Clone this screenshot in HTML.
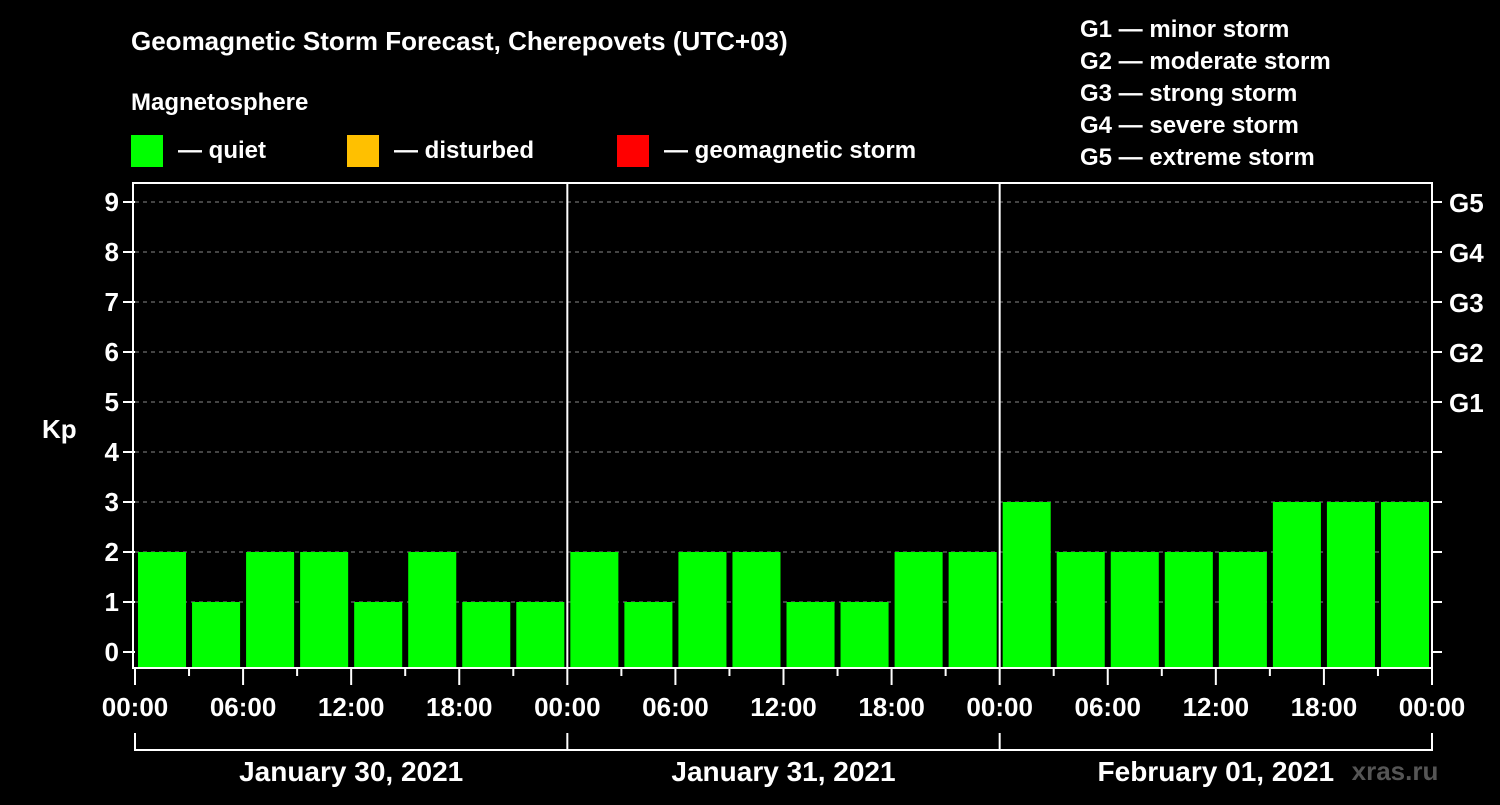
<!DOCTYPE html>
<html><head><meta charset="utf-8"><style>
body{margin:0;background:#000;width:1500px;height:800px;overflow:hidden}
svg text{font-family:"Liberation Sans",sans-serif;font-weight:bold;fill:#fff}
</style></head><body>
<svg width="1500" height="800">
<g id="hdr">
<text x="131" y="50" font-size="26">Geomagnetic Storm Forecast, Cherepovets (UTC+03)</text>
<text x="131" y="110" font-size="24">Magnetosphere</text>
<rect x="131" y="135" width="32" height="32" fill="#00ff00"/>
<text x="178" y="158" font-size="24">— quiet</text>
<rect x="347" y="135" width="32" height="32" fill="#ffc000"/>
<text x="394" y="158" font-size="24">— disturbed</text>
<rect x="617" y="135" width="32" height="32" fill="#ff0000"/>
<text x="664" y="158" font-size="24">— geomagnetic storm</text>
<text x="1080" y="37" font-size="24">G1 — minor storm</text>
<text x="1080" y="69" font-size="24">G2 — moderate storm</text>
<text x="1080" y="101" font-size="24">G3 — strong storm</text>
<text x="1080" y="133" font-size="24">G4 — severe storm</text>
<text x="1080" y="165" font-size="24">G5 — extreme storm</text>
<text x="42" y="438" font-size="26">Kp</text>
<text x="1395" y="780" font-size="26" fill="#666" style="fill:#555" text-anchor="middle">xras.ru</text>
</g>
<g id="plot"></g>
</svg>
<script>
const kpValues=[2,1,2,2,1,2,1,1, 2,1,2,2,1,1,2,2, 3,2,2,2,2,3,3,3];
const days=["January 30, 2021","January 31, 2021","February 01, 2021"];
const timeLabels=["00:00","06:00","12:00","18:00"];
const yTicks=[0,1,2,3,4,5,6,7,8,9];
const gLabels=[[5,"G1"],[6,"G2"],[7,"G3"],[8,"G4"],[9,"G5"]];
const L=135,R=1432,T=183,B=668;
const slot=(R-L)/kpValues.length;
const x=i=>L+i*slot;
const y=v=>652-50*v;
const NS="http://www.w3.org/2000/svg";
const g=document.getElementById('plot');
function mk(tag,a,txt){const e=document.createElementNS(NS,tag);for(const k in a)e.setAttribute(k,a[k]);if(txt!=null)e.textContent=txt;g.appendChild(e);return e;}
function color(v){return v>=5?'#ff0000':v>=4?'#ffc000':'#00ff00';}
yTicks.forEach(v=>{
  if(v>0){const l=mk('line',{x1:L,x2:R,y1:y(v),y2:y(v),stroke:'#888','stroke-dasharray':'4,4','stroke-width':1});
  
  }
  const t=mk('line',{x1:L-12,x2:L,y1:y(v),y2:y(v),stroke:'#fff','stroke-width':2});
  
  
  const tr=mk('line',{x1:R,x2:R+10,y1:y(v),y2:y(v),stroke:'#fff','stroke-width':2});
  
  
  const tx=mk('text',{x:L-16,y:y(v)+9,'font-size':26,'text-anchor':'end'},v);
  
  
});
gLabels.forEach(([v,s])=>{
  const t=mk('text',{x:R+17,y:y(v)+10,'font-size':26},s);
  
  
});
kpValues.forEach((v,i)=>{
  const r=mk('rect',{x:x(i)+3,y:y(v),width:slot-6,height:B-y(v),fill:color(v)});
  
  
});
const fr=mk('rect',{x:L-2,y:T,width:R-L+2,height:B-T,fill:'none',stroke:'#fff','stroke-width':2});


for(let d=1;d<days.length;d++){
  const l=mk('line',{x1:x(d*8),x2:x(d*8),y1:T,y2:B,stroke:'#fff','stroke-width':2});
  
  
}
for(let i=0;i<=kpValues.length;i++){
  const major=i%2===0;
  const t=mk('line',{x1:x(i),x2:x(i),y1:B,y2:B+(major?17:8),stroke:'#fff','stroke-width':2});
  
  
  if(major){
    const lbl=timeLabels[(i/2)%4];
    const tx=mk('text',{x:x(i),y:716,'font-size':26,'text-anchor':'middle'},lbl);
    
    
  }
}
const br=mk('path',{d:`M${L} 733V750H${R}V733`,fill:'none',stroke:'#fff','stroke-width':2});


days.forEach((d,k)=>{
  const bt=mk('line',{x1:x(k*8),x2:x(k*8),y1:733,y2:750,stroke:'#fff','stroke-width':2});
  
  
  const t=mk('text',{x:(x(k*8)+x(k*8+8))/2,y:781,'font-size':28,'text-anchor':'middle'},d);
  
  
});
</script>
</body></html>
